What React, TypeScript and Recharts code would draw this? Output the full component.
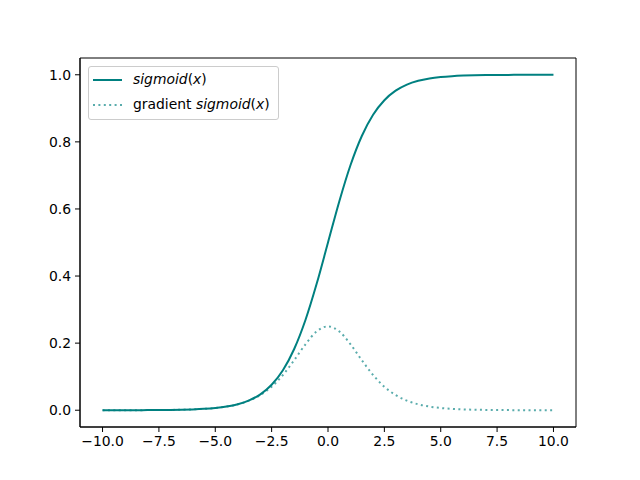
import { LineChart, Line, XAxis, YAxis, ReferenceArea } from "recharts";

const xValues = [
  -10, -9.5, -9, -8.5, -8, -7.5, -7, -6.5, -6, -5.5, -5, -4.5, -4, -3.5, -3,
  -2.5, -2, -1.5, -1, -0.5, 0, 0.5, 1, 1.5, 2, 2.5, 3, 3.5, 4, 4.5, 5, 5.5,
  6, 6.5, 7, 7.5, 8, 8.5, 9, 9.5, 10,
];

const sigmoidValues = [
  0.00005, 0.00007, 0.00012, 0.0002, 0.00034, 0.00055, 0.00091, 0.0015,
  0.00247, 0.00407, 0.00669, 0.01099, 0.01799, 0.02931, 0.04743, 0.07586,
  0.1192, 0.18243, 0.26894, 0.37754, 0.5, 0.62246, 0.73106, 0.81757, 0.8808,
  0.92414, 0.95257, 0.97069, 0.98201, 0.98901, 0.99331, 0.99593, 0.99753,
  0.9985, 0.99909, 0.99945, 0.99966, 0.9998, 0.99988, 0.99993, 0.99995,
];

const gradientValues = [
  0.00005, 0.00007, 0.00012, 0.0002, 0.00034, 0.00055, 0.00091, 0.0015,
  0.00247, 0.00405, 0.00665, 0.01087, 0.01766, 0.02845, 0.04518, 0.0701,
  0.10499, 0.14915, 0.19661, 0.235, 0.25, 0.235, 0.19661, 0.14915, 0.10499,
  0.0701, 0.04518, 0.02845, 0.01766, 0.01087, 0.00665, 0.00405, 0.00247,
  0.0015, 0.00091, 0.00055, 0.00034, 0.0002, 0.00012, 0.00007, 0.00005,
];

const xTicks = [-10, -7.5, -5, -2.5, 0, 2.5, 5, 7.5, 10];
const yTicks = [0, 0.2, 0.4, 0.6, 0.8, 1.0];

const data = xValues.map((x, i) => ({
  x,
  sigmoid: sigmoidValues[i],
  gradient: gradientValues[i],
}));

const FONT = "'DejaVu Sans', sans-serif";
const TEAL = "#008080";

const fmt = (v: number) => v.toFixed(1).replace("-", "\u2212");

// mathtext-like: letters oblique, parens upright
function MathSigmoid() {
  return (
    <span>
      <i>sigmoid</i>(<i>x</i>)
    </span>
  );
}

function LegendBox() {
  return (
    <div
      style={{
        position: "absolute",
        left: 88,
        top: 66,
        fontFamily: FONT,
        fontSize: 13.9,
        background: "rgba(255,255,255,0.8)",
        border: "1px solid #cccccc",
        borderRadius: 3,
        padding: "0px 8px 2px 4px",
        lineHeight: "25px",
        color: "#000",
      }}
    >
      <div style={{ display: "flex", alignItems: "center" }}>
        <svg width={30} height={10} style={{ marginRight: 10 }}>
          <line x1={0} y1={5} x2={29} y2={5} stroke={TEAL} strokeWidth={2} />
        </svg>
        <MathSigmoid />
      </div>
      <div style={{ display: "flex", alignItems: "center" }}>
        <svg width={30} height={10} style={{ marginRight: 10 }}>
          <line
            x1={0}
            y1={5}
            x2={29}
            y2={5}
            stroke={TEAL}
            strokeOpacity={0.65}
            strokeWidth={2}
            strokeDasharray="2 3.4"
          />
        </svg>
        <span style={{ whiteSpace: "pre" }}>gradient </span>
        <MathSigmoid />
      </div>
    </div>
  );
}

export default function App() {
  const tickStyle = { fontSize: 13.9, fill: "#000", fontFamily: FONT };
  return (
    <div style={{ position: "absolute", left: 0, top: 0, width: 640, height: 480, background: "#fff" }}>
      <LineChart
        width={640}
        height={480}
        data={data}
        margin={{ top: 58, right: 64, bottom: 23, left: 40 }}
      >
        <XAxis
          dataKey="x"
          type="number"
          domain={[-11, 11]}
          ticks={xTicks}
          tickFormatter={fmt}
          tick={tickStyle}
          tickSize={5}
          tickMargin={4}
          height={30}
          stroke="#000"
          allowDataOverflow
        />
        <YAxis
          type="number"
          domain={[-0.05, 1.05]}
          ticks={yTicks}
          tickFormatter={fmt}
          tick={tickStyle}
          tickSize={5}
          tickMargin={4}
          width={40}
          stroke="#000"
          allowDataOverflow
        />
        <ReferenceArea
          x1={-11}
          x2={11}
          y1={-0.05}
          y2={1.05}
          fill="none"
          stroke="#000"
          strokeWidth={1}
          ifOverflow="visible"
        />
        <Line
          dataKey="sigmoid"
          type="monotone"
          stroke={TEAL}
          strokeWidth={2}
          dot={false}
          isAnimationActive={false}
        />
        <Line
          dataKey="gradient"
          type="monotone"
          stroke={TEAL}
          strokeOpacity={0.65}
          strokeWidth={2}
          strokeDasharray="2 3.4"
          dot={false}
          isAnimationActive={false}
        />
      </LineChart>
      <LegendBox />
    </div>
  );
}
